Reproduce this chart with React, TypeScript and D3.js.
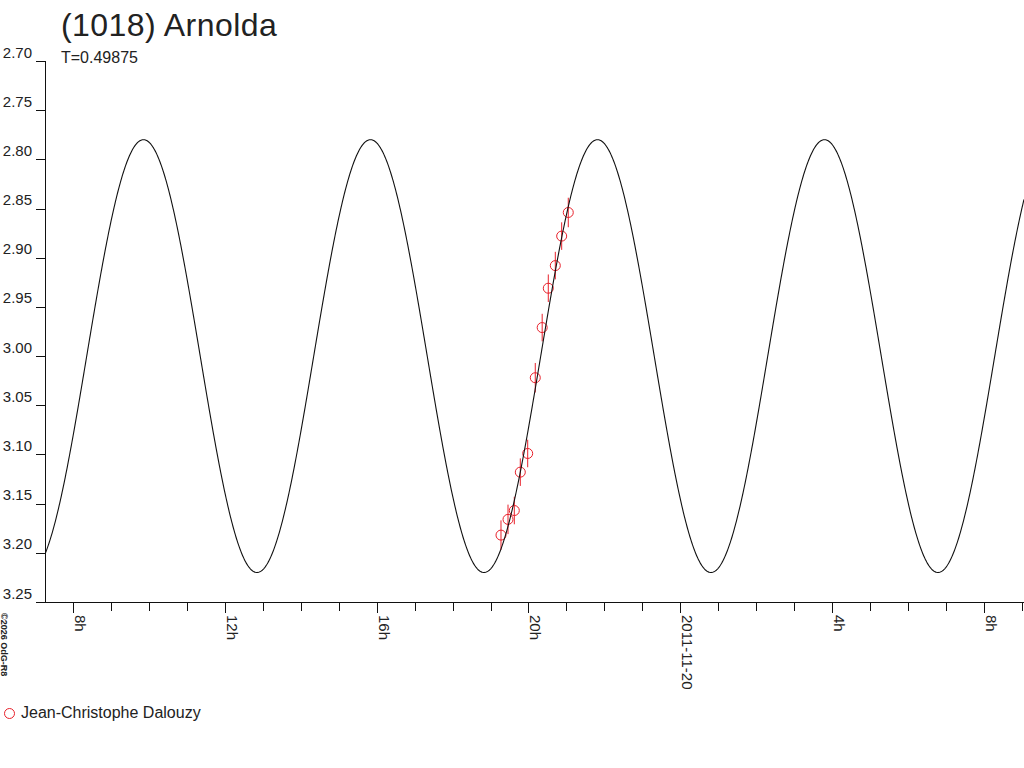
import React from "react";
import * as d3 from "d3";

// ---- data ----
const title = "(1018) Arnolda";
const periodLabel = "T=0.49875";
const periodDays = 0.49875;
// model light curve parameters (double-peaked: visible period T/2)
const modelMean = 3.0;
const modelAmp = 0.22;
const modelEpochHour = 9.85; // hours after 2011-11-19 00:00, a maximum
// observations: hours after 2011-11-19 00:00, magnitude, error
const obsHours = [19.276, 19.461, 19.627, 19.785, 19.98, 20.18, 20.362, 20.523, 20.708, 20.876, 21.05];
const obsMag = [3.182, 3.166, 3.157, 3.118, 3.099, 3.022, 2.971, 2.931, 2.908, 2.878, 2.854];
const obsErr = [0.015, 0.015, 0.014, 0.014, 0.014, 0.015, 0.014, 0.014, 0.014, 0.014, 0.015];
const observer = "Jean-Christophe Dalouzy";
const yTicks = [2.7, 2.75, 2.8, 2.85, 2.9, 2.95, 3.0, 3.05, 3.1, 3.15, 3.2, 3.25];
const majorTickHours = [8, 12, 16, 20, 24, 28, 32];
const majorTickLabels = ["8h", "12h", "16h", "20h", "2011-11-20", "4h", "8h"];
const minorTickHours = d3.range(8, 34);
const copyright = "©2026 OdG-R8";

const FONT = "'Liberation Sans', Arial, Helvetica, sans-serif";
const TEXT = "#222";

export default function App() {
  const W = 1024, H = 768;
  const left = 45, right = 1024, top = 61, bottom = 602;
  const x = d3.scaleLinear().domain([7.2539, 33.065]).range([left, right]);
  const y = d3.scaleLinear().domain([2.7, 3.25]).range([top, bottom]);

  const visiblePeriodH = (periodDays * 24) / 2;
  const model = (h: number) =>
    modelMean - modelAmp * Math.cos((2 * Math.PI * (h - modelEpochHour)) / visiblePeriodH);
  const [h0, h1] = x.domain();
  const samples = d3.range(0, 1601).map((i) => h0 + ((h1 - h0) * i) / 1600);
  const line = d3
    .line<number>()
    .x((h) => x(h))
    .y((h) => y(model(h)));

  return (
    <svg
      width={W}
      height={H}
      style={{ position: "absolute", left: 0, top: 0, background: "#fff" }}
      fontFamily={FONT}
    >
      <rect width={W} height={H} fill="#fff" />
      <defs>
        <clipPath id="plot">
          <rect x={left} y={top} width={right - left} height={bottom - top} />
        </clipPath>
      </defs>

      {/* title */}
      <text x={61} y={36} fontSize={32} letterSpacing={0.45} fill={TEXT}>
        {title}
      </text>
      <text x={61} y={63} fontSize={16} fill={TEXT}>
        {periodLabel}
      </text>

      {/* y axis */}
      <line x1={left + 0.5} x2={left + 0.5} y1={top} y2={bottom} stroke="#111" />
      {yTicks.map((v) => (
        <g key={v}>
          <line x1={36} x2={left} y1={Math.round(y(v)) + 0.5} y2={Math.round(y(v)) + 0.5} stroke="#111" />
          <text x={32} y={y(v) - 3.5} fontSize={15} textAnchor="end" fill={TEXT}>
            {v.toFixed(2)}
          </text>
        </g>
      ))}

      {/* x axis */}
      <line x1={36} x2={right} y1={bottom + 0.5} y2={bottom + 0.5} stroke="#111" />
      {minorTickHours.map((h) => (
        <line
          key={"m" + h}
          x1={Math.round(x(h)) + 0.5}
          x2={Math.round(x(h)) + 0.5}
          y1={bottom}
          y2={bottom + 9}
          stroke="#111"
        />
      ))}
      {majorTickHours.map((h, i) => (
        <g key={"M" + h}>
          <line
            x1={Math.round(x(h)) + 0.5}
            x2={Math.round(x(h)) + 0.5}
            y1={bottom}
            y2={bottom + 11}
            stroke="#111"
          />
          <text
            transform={`translate(${x(h) + 2},${bottom + 13}) rotate(90)`}
            fontSize={15}
            fill={TEXT}
          >
            {majorTickLabels[i]}
          </text>
        </g>
      ))}

      {/* observations */}
      <g clipPath="url(#plot)" stroke="#e8202a" fill="none" strokeWidth={1}>
        {obsHours.map((h, i) => (
          <g key={"o" + i}>
            <line x1={x(h)} x2={x(h)} y1={y(obsMag[i] - obsErr[i])} y2={y(obsMag[i] + obsErr[i])} />
            <circle cx={x(h)} cy={y(obsMag[i])} r={5} />
          </g>
        ))}
      </g>

      {/* model curve */}
      <path d={line(samples) || ""} fill="none" stroke="#111" strokeWidth={1.1} clipPath="url(#plot)" />

      {/* copyright */}
      <text transform="translate(1,613) rotate(90)" fontSize={9} fontWeight="bold" fill={TEXT}>
        {copyright}
      </text>

      {/* legend */}
      <circle cx={9.5} cy={713.5} r={5} fill="none" stroke="#e8202a" />
      <text x={21} y={718} fontSize={16} fill={TEXT}>
        {observer}
      </text>
    </svg>
  );
}
